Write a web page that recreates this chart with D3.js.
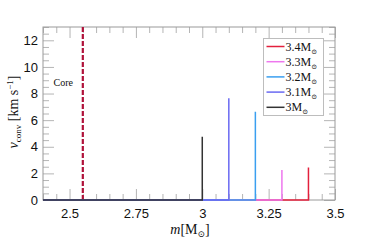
<!DOCTYPE html>
<html>
<head>
<meta charset="utf-8">
<script src="https://cdn.jsdelivr.net/npm/d3@7"></script>
<style>
  html, body { margin: 0; padding: 0; background: #fff; }
  svg { display: block; }
</style>
</head>
<body>
<svg id="chart" width="374" height="240"></svg>
<script>
// ---- data ----
const modelLabels = ["3.4", "3.3", "3.2", "3.1", "3"];
const modelMasses = [3.4, 3.3, 3.2, 3.1, 3.0];
const peakVconv   = [2.45, 2.25, 6.63, 7.64, 4.75];
const modelColors = ["#e3203c", "#ee77ee", "#3a9ff0", "#6a6af2", "#333333"];
const coreMass = 2.55;
const xTickValues = [2.5, 2.75, 3, 3.25, 3.5];
const xTickLabels = ["2.5", "2.75", "3", "3.25", "3.5"];
const yTickValues = [0, 2, 4, 6, 8, 10, 12];
const xDomain = [2.4, 3.5];
const yDomain = [0, 13];

(function () {
// ---- layout ----
const svg = d3.select("#chart");
const L = 43, R = 335, T = 27, B = 200;
const x = d3.scaleLinear().domain(xDomain).range([L, R]);
const y = d3.scaleLinear().domain(yDomain).range([B, T]);

const tickColor = "#b5b5b5";
const frameColor = "#9a9a9a";
const sans = "'Liberation Sans', Arial, sans-serif";
const serif = "'Liberation Serif', 'DejaVu Serif', serif";

// minor ticks
const xMinor = d3.range(2.4, 3.5001, 0.05).map(v => +v.toFixed(2)).filter(v => !xTickValues.some(t => Math.abs(t - v) < 1e-6));
const yMinor = d3.range(0, 13.001, 0.5).filter(v => v % 2 !== 0);

const g = svg.append("g");

const axBottom = g.append("g").attr("transform", `translate(0,${B})`)
  .call(d3.axisBottom(x).tickValues(xTickValues).tickFormat((d, i) => xTickLabels[i]).tickSize(-11).tickPadding(9));
const axTop = g.append("g").attr("transform", `translate(0,${T})`)
  .call(d3.axisTop(x).tickValues(xTickValues).tickFormat("").tickSize(-11));
const axBottomMinor = g.append("g").attr("transform", `translate(0,${B})`)
  .call(d3.axisBottom(x).tickValues(xMinor).tickFormat("").tickSize(-6));
const axTopMinor = g.append("g").attr("transform", `translate(0,${T})`)
  .call(d3.axisTop(x).tickValues(xMinor).tickFormat("").tickSize(-6));
const axLeft = g.append("g").attr("transform", `translate(${L},0)`)
  .call(d3.axisLeft(y).tickValues(yTickValues).tickFormat(d3.format("d")).tickSize(-11).tickPadding(5));
const axRight = g.append("g").attr("transform", `translate(${R},0)`)
  .call(d3.axisRight(y).tickValues(yTickValues).tickFormat("").tickSize(-11));
const axLeftMinor = g.append("g").attr("transform", `translate(${L},0)`)
  .call(d3.axisLeft(y).tickValues(yMinor).tickFormat("").tickSize(-6));
const axRightMinor = g.append("g").attr("transform", `translate(${R},0)`)
  .call(d3.axisRight(y).tickValues(yMinor).tickFormat("").tickSize(-6));

[axBottom, axTop, axBottomMinor, axTopMinor, axLeft, axRight, axLeftMinor, axRightMinor].forEach(a => {
  a.select(".domain").remove();
  a.selectAll(".tick line").attr("stroke", tickColor).attr("stroke-width", 1);
  a.selectAll(".tick text").attr("fill", "#111").style("font-family", sans).style("font-size", "13px");
});

// frame
g.append("rect").attr("x", L).attr("y", T).attr("width", R - L).attr("height", B - T)
  .attr("fill", "none").attr("stroke", frameColor).attr("stroke-width", 1);

// core line
g.append("line")
  .attr("x1", x(coreMass)).attr("x2", x(coreMass))
  .attr("y1", y(yDomain[0])).attr("y2", y(yDomain[1]))
  .attr("stroke", "#b0123a").attr("stroke-width", 2.2).attr("stroke-dasharray", "5,2");

g.append("text").attr("x", x(2.44)).attr("y", y(8.55))
  .style("font-family", serif).style("font-size", "10px").attr("fill", "#111").text("Core");

// series
const line = d3.line().x(d => x(d[0])).y(d => y(d[1]));
modelMasses.forEach((m, i) => {
  const pts = [[xDomain[0], 0], [m, 0], [m, peakVconv[i]]];
  g.append("path").datum(pts).attr("d", line)
    .attr("fill", "none").attr("stroke", modelColors[i]).attr("stroke-width", 1.5)
    .attr("stroke-linejoin", "miter");
});

// legend
const lg = g.append("g");
const lx = 263.5, ly = 38.5, lw = 60, lh = 77;
lg.append("rect").attr("x", lx).attr("y", ly).attr("width", lw).attr("height", lh)
  .attr("fill", "#fff").attr("stroke", "#bdbdbd").attr("stroke-width", 1);
modelLabels.forEach((lab, i) => {
  const yy = ly + 8 + i * 15.2;
  lg.append("line").attr("x1", lx + 3).attr("x2", lx + 21).attr("y1", yy).attr("y2", yy)
    .attr("stroke", modelColors[i]).attr("stroke-width", 1.5);
  const t = lg.append("text").attr("x", lx + 22).attr("y", yy + 4)
    .style("font-family", serif).style("font-size", "12px").attr("fill", "#111");
  t.append("tspan").text(lab + "M");
  t.append("tspan").attr("dy", 3).style("font-size", "7px").text("⊙");
});

// x label
const xl = g.append("text").attr("x", 190).attr("y", 234).attr("text-anchor", "middle")
  .style("font-family", serif).style("font-size", "14px").attr("fill", "#111");
xl.append("tspan").style("font-style", "italic").text("m");
xl.append("tspan").text("[M");
xl.append("tspan").attr("dy", 3).style("font-size", "9px").text("⊙");
xl.append("tspan").attr("dy", -3).text("]");

// y label
const yl = g.append("text").attr("transform", `translate(18,${112}) rotate(-90)`).attr("text-anchor", "middle")
  .style("font-family", serif).style("font-size", "14px").attr("fill", "#111");
yl.append("tspan").style("font-style", "italic").text("v");
yl.append("tspan").attr("dy", 3).style("font-size", "9px").text("conv");
yl.append("tspan").attr("dy", -3).text(" [km s");
yl.append("tspan").attr("dy", -5).style("font-size", "9px").text("−1");
yl.append("tspan").attr("dy", 5).text("]");
})();
</script>
</body>
</html>
